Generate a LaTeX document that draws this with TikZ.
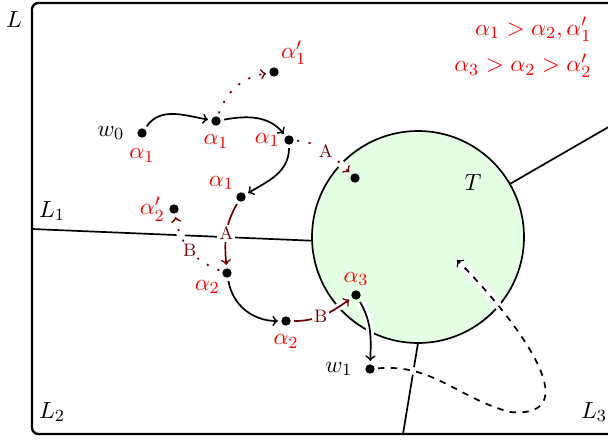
\documentclass[tikz,border=0pt]{standalone}
\usepackage{amsmath}
\usetikzlibrary{calc}

\begin{document}
\begin{tikzpicture}[x=0.47pt,y=0.47pt,font=\fontsize{11}{13}\selectfont,
  pt/.style={circle,fill=black,inner sep=0pt,minimum size=4.4pt,outer sep=1.6pt},
  lbl/.style={text=red},
  halo/.style={preaction={draw=white,line width=3.5pt,solid,-}},
  hop/.style={->,thick,halo},
  alt/.style={->,thick,red!45!black,halo},
  side/.style={alt,dash pattern=on 1pt off 4.5pt},
  tag/.style={fill=white,inner sep=1pt,text=red!45!black,font=\fontsize{8.5}{10}\selectfont}]
\useasboundingbox (0,0) rectangle (608,441);
\begin{scope}
\clip (0,0) rectangle (608,441);
\draw[line width=1.1pt,rounded corners=3pt] (32,7) rectangle (660,438);
\coordinate (T) at (418,204);
\draw[thick,fill=green!10] (T) circle[radius=106];
\draw[thick] (32,212) -- ($(T)+(182:106)$);
\draw[thick] ($(T)+(30:106)$) -- ($(T)+(30:240)$);
\draw[thick] ($(T)+(270:106)$) -- (403,7);
\end{scope}
% region labels
\node (lL) at (14,421) {$L$};
\node (lL1) at (52,230) {$L_1$};
\node (lL2) at (52,29) {$L_2$};
\node (lL3) at (594,29) {$L_3$};
\node (lT) at (473,258) {$T$};
\node[lbl,align=right,anchor=north east] (ord) at (599,431)
  {$\alpha_1 > \alpha_2, \alpha_1'$\\[4pt]$\alpha_3 > \alpha_2 > \alpha_2'$};
% points
\node[pt,label={[label distance=1pt]left:$w_0$},label={[lbl,label distance=0pt]below:$\alpha_1$}] (w0) at (142,308) {};
\node[pt,label={[lbl,label distance=-1pt]below:$\alpha_1$}] (a1) at (216,320) {};
\node[pt,label={[lbl,label distance=-3pt]left:$\alpha_1$}] (a2) at (289,301) {};
\node[pt,label={[lbl,label distance=-4pt]150:$\alpha_1$}] (a3) at (241,244) {};
\node[pt,label={[lbl,label distance=-4pt]45:$\alpha_1'$}] (a1p) at (274,369) {};
\node[pt,label={[lbl,label distance=-3pt]left:$\alpha_2'$}] (a2p) at (174,232) {};
\node[pt] (tA) at (355,263) {};
\node[pt,label={[lbl,label distance=-4pt]220:$\alpha_2$}] (b1) at (227,168) {};
\node[pt,label={[lbl,label distance=-1pt]below:$\alpha_2$}] (b2) at (286,120) {};
\node[pt,label={[lbl,label distance=-3pt]above:$\alpha_3$}] (c1) at (356,146) {};
\node[pt,label={[label distance=1pt]left:$w_1$}] (w1) at (370,72) {};
\coordinate (lp) at (510,29);
\coordinate (tgt) at (457,181);
% moves
\draw[hop] (w0) to[out=55,in=170] (a1);
\draw[hop] (a1) to[out=10,in=130] (a2);
\draw[hop] (a2) to[out=-90,in=30] (a3);
\draw[alt] (a3) to[out=240,in=95] node[tag]{A} (b1);
\draw[hop] (b1) to[out=-80,in=180] (b2);
\draw[alt] (b2) to[out=0,in=215] node[tag,pos=0.45]{B} (c1);
\draw[hop] (c1) to[out=-60,in=88] (w1);
\draw[hop,dashed] (w1) to[out=5,in=165] (lp) to[out=-5,in=-45,looseness=1.3] (tgt);
% side moves
\draw[side] (a1) to[out=70,in=190] (a1p);
\draw[side] (a2) to[out=-5,in=135] node[tag]{A} (tA);
\draw[side] (b1) to[out=160,in=-80] node[tag]{B} (a2p);
\end{tikzpicture}
\end{document}
